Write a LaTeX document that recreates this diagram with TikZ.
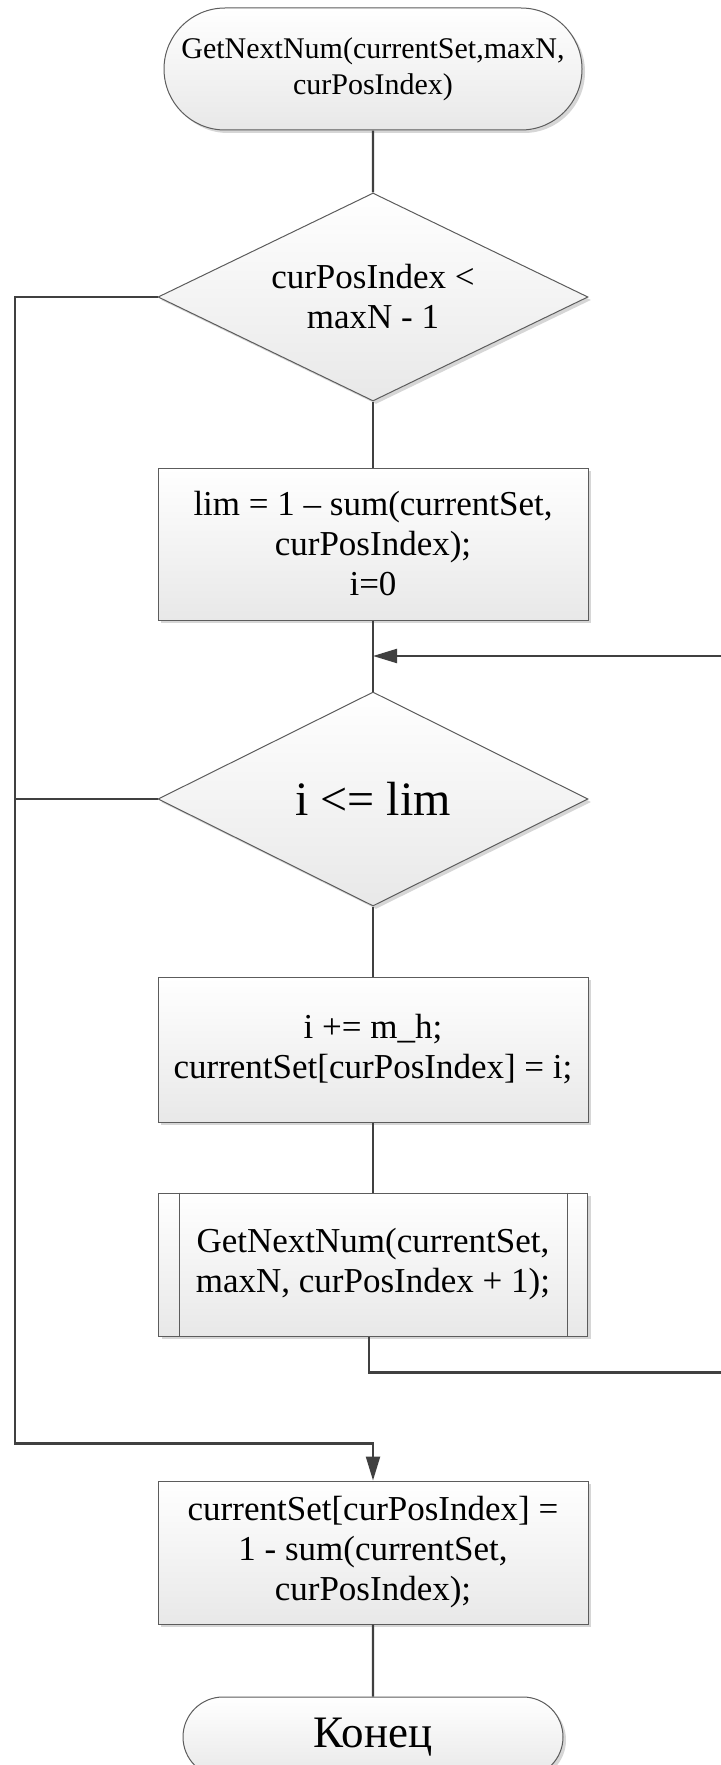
\documentclass[tikz,border=0pt]{standalone}
\usepackage{fontspec}
\setmainfont{Liberation Serif}
\usepackage{tikz}
\usetikzlibrary{positioning,arrows.meta,shapes.geometric,shapes.misc,shadows,calc}
\definecolor{edgegray}{HTML}{5C5C5C}
\definecolor{wiregray}{HTML}{404040}

\begin{document}
\begin{tikzpicture}[
    node distance=35pt,
    every node/.style={font=\fontsize{17.5pt}{20pt}\selectfont},
    shaded/.style={top color=white, bottom color=black!9, draw=edgegray, line width=0.5pt,
        drop shadow={shadow xshift=1.5pt, shadow yshift=-1.5pt, fill=black!16, opacity=1}},
    term/.style={shaded, rounded rectangle, align=center, inner sep=0pt},
    box/.style={shaded, rectangle, minimum width=215pt, align=center, inner sep=0pt},
    cond/.style={shaded, diamond, aspect=2, minimum width=215pt, align=center, inner sep=0pt},
    wire/.style={draw=wiregray, line width=1.1pt},
    arr/.style={wire, -{Triangle[length=12pt, width=7pt]}}
]
\useasboundingbox (0,0) rectangle (360.5pt,-882.5pt);
\clip (0,0) rectangle (360.5pt,-882.5pt);

\node[term, minimum width=209pt, minimum height=61pt, font=\fontsize{15pt}{18pt}\selectfont]
    (start) at (186.5pt,-34.5pt) {GetNextNum(currentSet,maxN,\\curPosIndex)};
\node[cond, minimum height=104pt, below=31pt of start] (cond1) {curPosIndex <\\maxN - 1};
\node[box, minimum height=76pt, below=33pt of cond1] (init) {lim = 1 – sum(currentSet,\\curPosIndex);\\i=0};
\node[cond, minimum height=107pt, below=35.5pt of init, font=\fontsize{24pt}{28pt}\selectfont] (cond2) {i <= lim};
\node[box, minimum height=72.5pt, below=35pt of cond2] (body) {i += m\_h;\\currentSet[curPosIndex] = i;};
\node[box, minimum width=214.5pt, minimum height=71.5pt, below=35pt of body] (sub) {GetNextNum(currentSet,\\maxN, curPosIndex + 1);};
\node[box, minimum height=71.5pt, below=72pt of sub] (fin) {currentSet[curPosIndex] =\\1 - sum(currentSet,\\curPosIndex);};
\node[term, minimum width=190pt, minimum height=40pt, below=36pt of fin, font=\fontsize{22.5pt}{26pt}\selectfont] (stop) {Конец};

% inner lines of the call box
\draw[draw=edgegray, line width=0.5pt] ([xshift=10.5pt]sub.north west) -- ([xshift=10.5pt]sub.south west);
\draw[draw=edgegray, line width=0.5pt] ([xshift=-10.5pt]sub.north east) -- ([xshift=-10.5pt]sub.south east);

\coordinate (join) at ($(init.south)!0.5!(cond2.north)$);
\coordinate (lft) at (7.5pt,0);
\coordinate (rgt) at (366pt,0);
\coordinate (back) at ($([xshift=-2pt]sub.south)+(0,-18pt)$);
\coordinate (exit) at ($(fin.north)+(0,18.5pt)$);

\draw[wire] (start) -- (cond1);
\draw[wire] (cond1) -- (init);
\draw[wire] (init) -- (cond2);
\draw[wire] (cond2) -- (body);
\draw[wire] (body) -- (sub);
\draw[wire] (fin) -- (stop);
\draw[arr] ([xshift=-2pt]sub.south) -- (back) -- (back -| rgt) -- (join -| rgt) -- (join);
\draw[arr] (cond1.west) -- (cond1.west -| lft) -- (exit -| lft) -- (exit) -- (fin.north);
\draw[wire] (cond2.west) -- (cond2.west -| lft);
\end{tikzpicture}
\end{document}
